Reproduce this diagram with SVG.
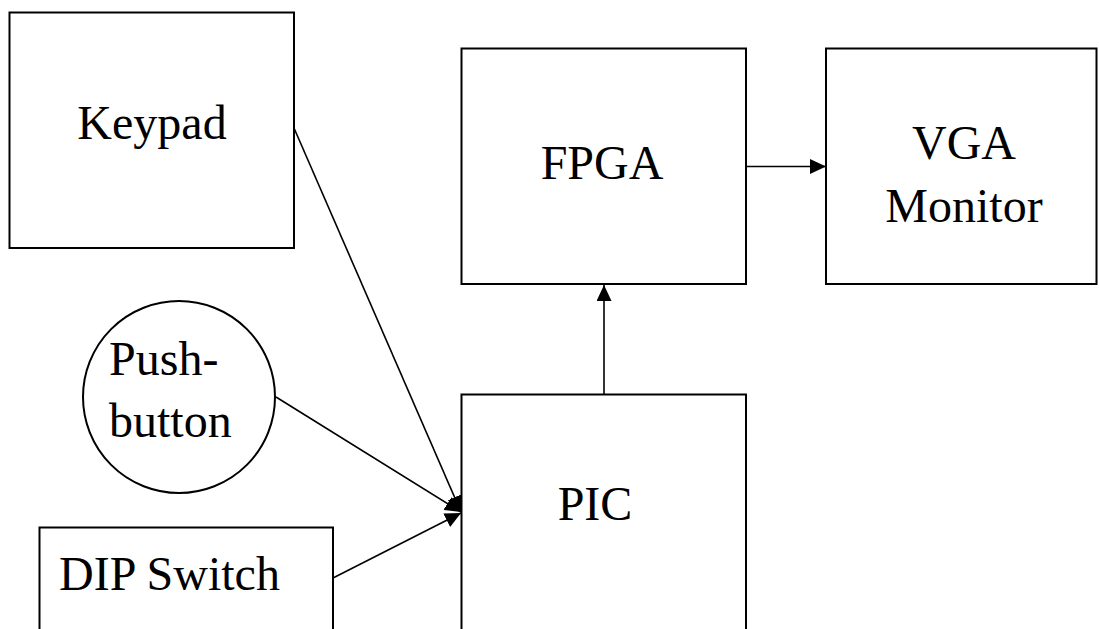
<svg xmlns="http://www.w3.org/2000/svg" width="1099" height="629" viewBox="0 0 1099 629">
<defs>
<style>
.box{fill:#fff;stroke:#000;stroke-width:2}
.lbl{font-family:"Liberation Serif","Times New Roman",serif;font-size:48px;fill:#000}
.mid{text-anchor:middle}
.conn{stroke:#000;stroke-width:1.6;fill:none;marker-end:url(#ah)}
</style>
<marker id="ah" markerUnits="userSpaceOnUse" markerWidth="16" markerHeight="15" refX="16" refY="7.5" orient="auto" viewBox="0 0 16 15">
<path d="M0,0 L16,7.5 L0,15 z" fill="#000"/>
</marker>
</defs>
<rect width="1099" height="629" fill="#fff"/>
<g id="keypad">
<rect class="box" x="9.5" y="12.5" width="284.5" height="235.5"/>
<text class="lbl mid" x="152" y="139">Keypad</text>
</g>
<g id="fpga">
<rect class="box" x="461.5" y="48.5" width="284.5" height="235.5"/>
<text class="lbl mid" x="602" y="179">FPGA</text>
</g>
<g id="vga">
<rect class="box" x="826" y="48.5" width="270.5" height="235.5"/>
<text class="lbl mid" x="964" y="159">VGA</text>
<text class="lbl mid" x="964" y="222">Monitor</text>
</g>
<g id="pushbutton">
<circle class="box" cx="179" cy="397" r="96"/>
<text class="lbl" x="109" y="375">Push-</text>
<text class="lbl" x="109" y="437">button</text>
</g>
<g id="pic">
<rect class="box" x="461.5" y="394.5" width="284.5" height="260"/>
<text class="lbl mid" x="595" y="520">PIC</text>
</g>
<g id="dipswitch">
<rect class="box" x="39.5" y="527.5" width="293.5" height="130"/>
<text class="lbl" x="59" y="590">DIP Switch</text>
</g>
<g id="connectors">
<line class="conn" x1="294" y1="128" x2="461" y2="512"/>
<line class="conn" x1="276" y1="397" x2="461" y2="512"/>
<line class="conn" x1="333" y1="578" x2="461" y2="513"/>
<line class="conn" x1="604" y1="394" x2="604" y2="285"/>
<line class="conn" x1="746" y1="166.5" x2="826" y2="166.5"/>
</g>
</svg>
